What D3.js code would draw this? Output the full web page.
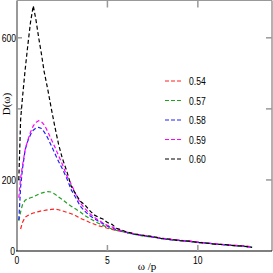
<!DOCTYPE html>
<html lang="en">
<head>
    <meta charset="UTF-8">
    <title>D(omega)</title>
    <script src="https://d3js.org/d3.v7.min.js"></script>
    <style>
        body { margin: 0; background: #fff; }
        svg { display: block; }
        .tick-label { font-family: "Liberation Sans", Arial, sans-serif; font-size: 11px; fill: #000; }
        .axis-title { font-family: "Liberation Serif", serif; font-size: 11px; fill: #000; }
    </style>
</head>
<body>
    <svg id="chart"></svg>
    <script>
        // data
        const omega = [0.1, 0.2, 0.3, 0.45, 0.6, 0.75, 0.9, 1.05, 1.2, 1.35, 1.5, 1.6, 1.7, 1.9, 2.1, 2.3, 2.5, 2.75,
            3.0, 3.25, 3.5, 3.75, 4.0, 4.25, 4.5, 4.75, 5.0, 5.25, 5.5, 5.75, 6.0, 6.5, 7.0, 7.5, 8.0, 8.5, 9.0, 9.5,
            10.0, 10.5, 11.0, 11.5, 12.0, 12.5, 13.0];
        const d054 = [null, 62, 80, 95, 100, 104, 107, 109, 111, 113, 114, 115, 116, 117, 118, 116, 113, 109,
            105, 99, 92, 87, 81, 76, 71, 68, 64, 61, 58, 55, 53, 48, 44, 40, 36, 33, 30, 28,
            25, 22, 20, 18, 16, 15, 12];
        const d057 = [85, 110, 130, 143, 147, 150, 152, 156, 160, 163, 165, 166, 167, 166, 160, 152, 145, 135,
            126, 118, 110, 100, 92, 85, 78, 72, 67, 62, 58, 56, 52, 47, 42, 39, 35, 32, 29, 27,
            24, 22, 19, 18, 15, 13, 11];
        const d058 = [87, 180, 230, 285, 310, 328, 340, 346, 348, 345, 335, 327, 318, 296, 274, 252, 232, 205,
            172, 150, 126, 112, 100, 92, 84, 77, 70, 66, 60, 57, 53, 47, 43, 39, 35, 31, 30, 27,
            24, 23, 19, 17, 15, 14, 10];
        const d059 = [150, 205, 240, 285, 312, 335, 352, 362, 367, 364, 355, 346, 336, 314, 292, 268, 245, 212,
            188, 160, 135, 120, 106, 96, 87, 79, 72, 68, 61, 58, 54, 48, 44, 40, 36, 33, 30, 28,
            25, 22, 20, 18, 16, 14, 11];
        const d060 = [200, 370, 430, 510, 580, 645, 690, 650, 600, 555, 505, 480, 455, 400, 348, 300, 262, 225,
            182, 160, 140, 130, 115, 102, 95, 90, 80, 75, 64, 60, 55, 48, 44, 41, 35, 33, 29, 28,
            24, 22, 19, 18, 15, 14, 10];
        const seriesNames = ["0.54", "0.57", "0.58", "0.59", "0.60"];
        const seriesValues = [d054, d057, d058, d059, d060];
        const seriesColors = ["#ff2020", "#20a020", "#2020ff", "#ff00ff", "#000000"];
        const xTicks = [0, 5, 10];
        const yTicks = [0, 200, 400, 600];
        const yTickLabels = ["0", "200", "", "600"];

        const width = 273, height = 273;
        const margin = {top: 0.5, right: 1, bottom: 22, left: 17};

        const svg = d3.select("#chart").attr("width", width).attr("height", height);

        const x = d3.scaleLinear().domain([0, 14.1]).range([margin.left, width - margin.right]);
        const y = d3.scaleLinear().domain([0, 705]).range([height - margin.bottom, margin.top]);

        // narrow text: squeeze it sideways
        function label(px, py, txt, anchor) {
            svg.append("text").attr("class", "tick-label")
                .attr("transform", `translate(${px},${py}) scale(0.78,1)`)
                .attr("text-anchor", anchor)
                .text(txt);
        }

        // frame
        svg.append("line").attr("x1", x(0)).attr("x2", x(0)).attr("y1", y.range()[1]).attr("y2", y(0))
            .attr("stroke", "#999").attr("stroke-width", 2);
        svg.append("line").attr("x1", x(14.1)).attr("x2", x(14.1)).attr("y1", y.range()[1]).attr("y2", y(0))
            .attr("stroke", "#999").attr("stroke-width", 1.5);
        svg.append("line").attr("x1", x(0)).attr("x2", x(14.1)).attr("y1", y.range()[1]).attr("y2", y.range()[1])
            .attr("stroke", "#999").attr("stroke-width", 1);
        svg.append("line").attr("x1", x(0) - 1).attr("x2", x(14.1)).attr("y1", y(0)).attr("y2", y(0))
            .attr("stroke", "#000").attr("stroke-width", 1.2);

        // ticks, inside on all four sides
        xTicks.filter(d => d > 0).forEach(d => {
            svg.append("line").attr("x1", x(d)).attr("x2", x(d)).attr("y1", y(0)).attr("y2", y(0) - 6)
                .attr("stroke", "#999").attr("stroke-width", 1.5);
            svg.append("line").attr("x1", x(d)).attr("x2", x(d)).attr("y1", y.range()[1]).attr("y2", y.range()[1] + 7)
                .attr("stroke", "#999").attr("stroke-width", 1.5);
        });
        yTicks.filter(d => d > 0).forEach(d => {
            svg.append("line").attr("x1", x(0)).attr("x2", x(0) + 5).attr("y1", y(d)).attr("y2", y(d))
                .attr("stroke", "#999").attr("stroke-width", 1.5);
            svg.append("line").attr("x1", x(14.1)).attr("x2", x(14.1) - 6).attr("y1", y(d)).attr("y2", y(d))
                .attr("stroke", "#999").attr("stroke-width", 1.5);
        });

        xTicks.forEach(d => label(x(d), y(0) + 13, d, "middle"));
        yTicks.forEach((d, i) => label(d === 0 ? x(0) - 2 : x(0) - 1, y(d) + 4, yTickLabels[i], "end"));

        svg.append("text").attr("class", "axis-title")
            .attr("x", 147).attr("y", 270).attr("text-anchor", "middle")
            .text("ω /p");
        svg.append("text").attr("class", "axis-title")
            .attr("transform", "translate(10,104) rotate(-90)").attr("text-anchor", "middle")
            .text("D(ω)");

        // curves
        const line = d3.line()
            .defined(d => d[1] != null)
            .x(d => x(d[0]))
            .y(d => y(d[1]));

        seriesValues.forEach((vals, i) => {
            svg.append("path")
                .datum(omega.map((w, j) => [w, vals[j]]))
                .attr("d", line)
                .attr("fill", "none")
                .attr("stroke", seriesColors[i])
                .attr("stroke-width", 1.2)
                .attr("stroke-dasharray", "4,2.5");
        });

        // legend
        seriesNames.forEach((name, i) => {
            const ly = 81 + i * 19.5;
            svg.append("line").attr("x1", 165).attr("x2", 181).attr("y1", ly).attr("y2", ly)
                .attr("stroke", seriesColors[i]).attr("stroke-width", 1.2)
                .attr("stroke-dasharray", "4,2");
            label(189, ly + 4, name, "start");
        });
    </script>
</body>
</html>
